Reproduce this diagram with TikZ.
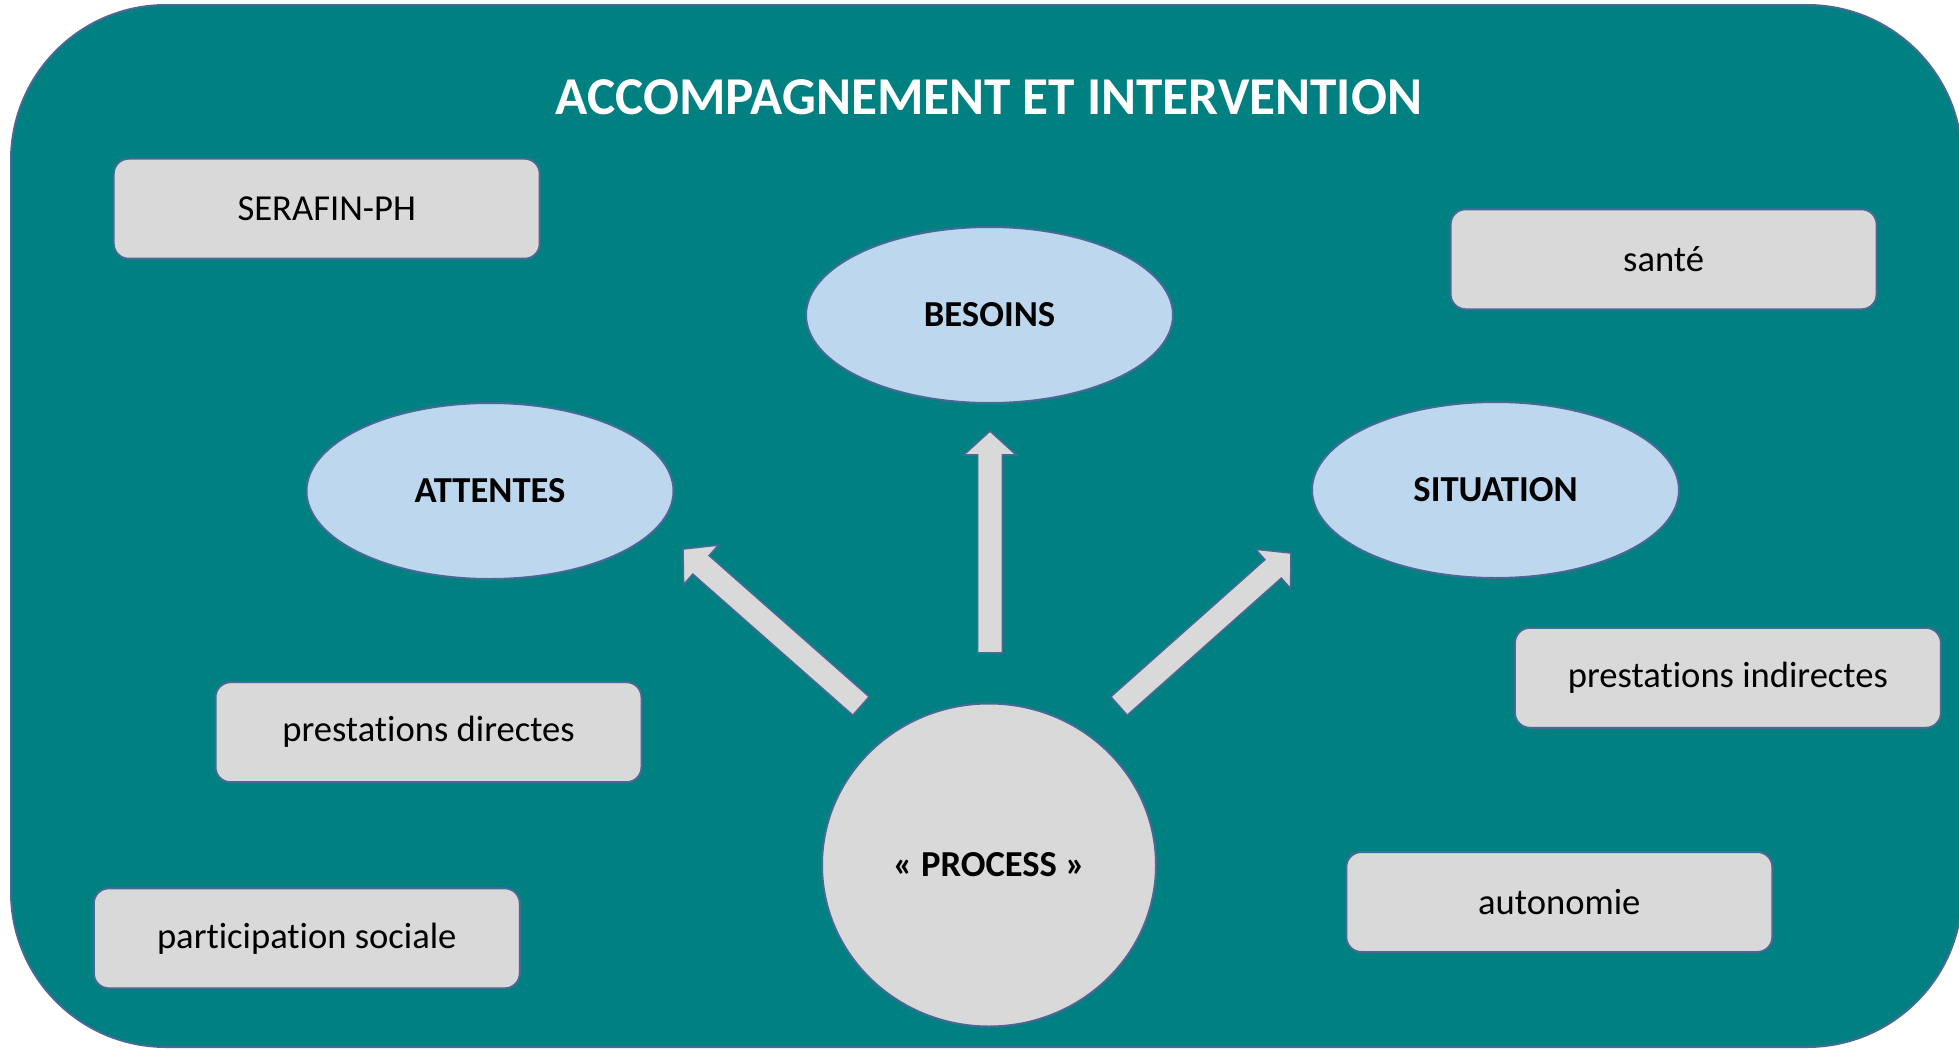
\documentclass[tikz,border=0pt]{standalone}
\usepackage{fontspec}
\setmainfont{Carlito}[Ligatures={NoCommon}]
\usetikzlibrary{shapes.geometric,calc}
\definecolor{teal0}{RGB}{0,128,128}
\definecolor{edge0}{RGB}{70,105,150}
\definecolor{gray0}{RGB}{217,217,217}
\definecolor{blue0}{RGB}{189,215,238}
\tikzset{
  boxnode/.style={draw=edge0,line width=1pt,fill=gray0,rounded corners=7.5pt,minimum width=213pt,minimum height=50pt,inner sep=0pt,font=\fontsize{18.3}{20}\selectfont},
  ellnode/.style={draw=edge0,line width=1pt,fill=blue0,ellipse,minimum width=183.5pt,minimum height=88pt,inner sep=0pt,font=\bfseries\fontsize{18.3}{20}\selectfont},
  circnode/.style={draw=edge0,line width=1pt,fill=gray0,ellipse,minimum width=167pt,minimum height=161.5pt,inner sep=0pt,font=\bfseries\fontsize{18.3}{20}\selectfont},
  blockarrow/.style={draw=edge0,line width=0.8pt,fill=gray0,line join=miter}
}
\newcommand{\blockarr}[2]{%
  \coordinate (H) at ($(#2)!12pt!(#1)$);
  \path[blockarrow] ($(#1)!6.2pt!90:(#2)$) -- ($(H)!6.2pt!-90:(#1)$) -- ($(H)!13.2pt!-90:(#1)$) -- (#2) -- ($(H)!13.2pt!90:(#1)$) -- ($(H)!6.2pt!90:(#1)$) -- ($(#1)!6.2pt!-90:(#2)$) -- cycle;
}
\begin{document}
\begin{tikzpicture}[x=0.5pt,y=-0.5pt]
\useasboundingbox (0,0) rectangle (1959,1049);
\draw[draw=edge0,line width=1pt,fill=teal0,rounded corners=77.5pt] (11,5) rectangle (1962,1047);
\node[text=white,font=\bfseries\fontsize{26.6}{30}\selectfont] (title) at (989,97) {ACCOMPAGNEMENT ET INTERVENTION};
\node[boxnode] (serafin) at (326.7,208.7) {SERAFIN-PH};
\node[boxnode] (sante) at (1663.6,259.3) {santé};
\node[boxnode] (pdir) at (428.5,732.2) {prestations directes};
\node[boxnode] (pind) at (1727.9,677.8) {prestations indirectes};
\node[boxnode] (psoc) at (306.8,938.3) {participation sociale};
\node[boxnode] (auto) at (1559.3,902) {autonomie};
\node[ellnode] (besoins) at (989.5,315) {BESOINS};
\node[ellnode] (attentes) at (490,491) {ATTENTES};
\node[ellnode] (situation) at (1495.5,490) {SITUATION};
\node[circnode] (process) at (989,865) {« PROCESS »};
\coordinate (upA) at (990,653);
\coordinate (upB) at (990,431);
\coordinate (lA) at (861,706);
\coordinate (lB) at (683,549);
\coordinate (rA) at (1119,706);
\coordinate (rB) at (1291,553);
\blockarr{upA}{upB}
\blockarr{lA}{lB}
\blockarr{rA}{rB}
\end{tikzpicture}
\end{document}
